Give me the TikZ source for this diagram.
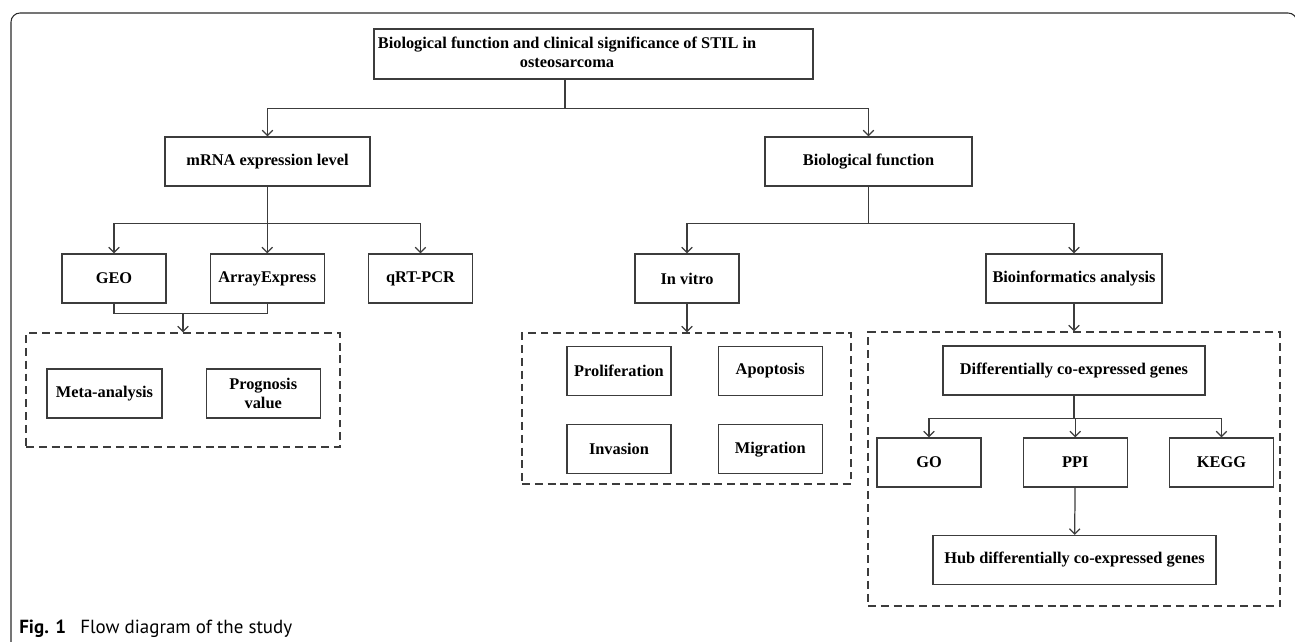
\documentclass[tikz,border=0pt]{standalone}
\usepackage{fontspec}
\setmainfont{Liberation Serif}
\newfontfamily\capfont{PT Sans}
\usetikzlibrary{arrows.meta, positioning}
\definecolor{linegray}{HTML}{3C3C3C}
\definecolor{framegray}{HTML}{2B2B2B}
\newcommand{\boxfont}{\fontsize{9.3}{10.8}\selectfont\bfseries}

\begin{document}
\begin{tikzpicture}[
  x=0.2mm, y=-0.2mm,
  node distance=8.6mm,
  box/.style={draw=linegray, line width=0.7pt, align=center, minimum height=9.8mm, inner sep=2pt, font=\boxfont},
  group/.style={draw=linegray, line width=0.7pt, dash pattern=on 4.5pt off 2.8pt},
  line/.style={draw=linegray, line width=0.7pt},
  arrow/.style={line, -{Straight Barb[length=3pt,width=6pt]}},
  frame/.style={draw=framegray, line width=0.6pt, rounded corners=1.8mm}
]
\useasboundingbox (0,0) rectangle (1295,641);
\begin{scope}
  \clip (0,0) rectangle (1295,641);
  \draw[frame] (11,13) rectangle (1297,700);
\end{scope}

\node[box, minimum width=87.8mm, minimum height=10mm, inner xsep=0pt] (top) at (593.5,54) {\begin{tabular}{@{}c@{}}Biological function and clinical significance of STIL in\\osteosarcoma\end{tabular}\hspace{10.6mm}};

\node[box, minimum width=41mm] (mrna) at (267.5,161.5) {mRNA expression level};
\node[box, minimum width=41.4mm] (biofun) at (868.5,161.5) {Biological function};

% mRNA branch
\node[box, minimum width=20.8mm] (geo) at (114,278.5) {GEO};
\node[box, minimum width=22.8mm, right=of geo] (arrexp) {ArrayExpress};
\node[box, minimum width=20.8mm, right=of arrexp] (qrt) {qRT-PCR};

\node[group, minimum width=62.8mm, minimum height=22.8mm] (grp1) at (183,390) {};
\node[box, minimum width=23mm] (meta) at (104.5,393.5) {Meta-analysis};
\node[box, minimum width=22.8mm, right=of meta] (prog) {Prognosis\\value};

% function branch
\node[box, minimum width=20.8mm] (invitro) at (687,278.5) {In vitro};
\node[box, minimum width=35.2mm] (bioinf) at (1074,278.5) {Bioinformatics analysis};

\node[group, minimum width=65.8mm, minimum height=30.2mm] (grp2) at (686.5,408.5) {};
\node[box, minimum width=20.8mm] (prolif) at (619,371) {Proliferation};
\node[box, minimum width=20.8mm, right=9.2mm of prolif] (apop) {Apoptosis};
\node[box, minimum width=20.8mm, below=5.6mm of prolif] (inv) {Invasion};
\node[box, minimum width=20.8mm, below=5.6mm of apop] (migr) {Migration};

\node[group, minimum width=82.4mm, minimum height=54.8mm] (grp3) at (1074,469) {};
\node[box, minimum width=52.4mm] (diff) at (1074,370.5) {Differentially co-expressed genes};
\node[box, minimum width=20.8mm] (go) at (929,462.5) {GO};
\node[box, minimum width=20.8mm, right=8.2mm of go] (ppi) {PPI};
\node[box, minimum width=20.8mm, right=8.2mm of ppi] (kegg) {KEGG};
\node[box, minimum width=56.6mm] (hub) at (1074.5,560) {Hub differentially co-expressed genes};

\draw[line] ([xshift=-5.7mm]top.south) -- ++(0,-5.8mm) coordinate (j1);
\draw[arrow] (j1) -| (mrna);
\draw[arrow] (j1) -| (biofun);

\draw[line] (mrna.south) -- ++(0,-7.4mm) coordinate (j2);
\draw[arrow] (j2) -| (geo);
\draw[arrow] (j2) -| (arrexp);
\draw[arrow] (j2) -| (qrt);

\draw[line] (geo.south) -- ++(0,-2mm) coordinate (j3) -| (arrexp.south);
\draw[arrow] (j3 -| grp1.north) -- (grp1.north);

\draw[line] (biofun.south) -- ++(0,-7.4mm) coordinate (j4);
\draw[arrow] (j4) -| (invitro);
\draw[arrow] (j4) -| (bioinf);
\draw[arrow] (invitro) -- (invitro |- grp2.north);
\draw[arrow] (bioinf) -- (bioinf |- grp3.north);

\draw[line] (diff.south) -- ++(0,-4.6mm) coordinate (j5);
\draw[arrow] (j5) -| (go);
\draw[arrow] (j5) -| (ppi);
\draw[arrow] (j5) -| (kegg);
\draw[arrow] (ppi) -- (hub);

\node[anchor=base west, inner sep=0pt, font=\capfont\fontsize{10.8}{12}\selectfont] (cap) at (19,633) {\textbf{Fig. 1}\hspace{0.75em}Flow diagram of the study};
\end{tikzpicture}
\end{document}
